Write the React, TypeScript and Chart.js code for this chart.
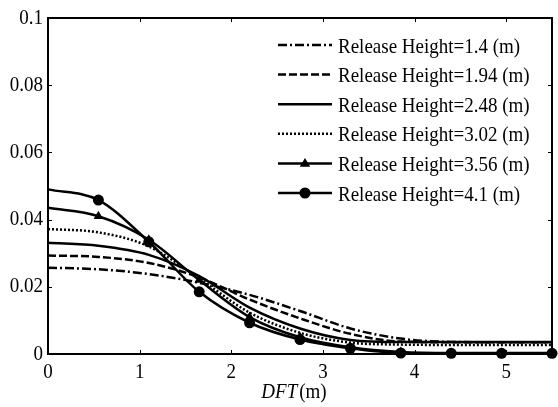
import React, { useEffect, useRef } from "react";
import { Chart, registerables } from "chart.js";

Chart.register(...registerables);

// ---- data ----
const distances = [0, 0.55, 1.1, 1.65, 2.2, 2.75, 3.3, 3.85, 4.4, 4.95, 5.5];
const seriesLabels = [
  "Release Height=1.4 (m)",
  "Release Height=1.94 (m)",
  "Release Height=2.48 (m)",
  "Release Height=3.02 (m)",
  "Release Height=3.56 (m)",
  "Release Height=4.1 (m)",
];
const h140 = [0.0257, 0.0252, 0.0238, 0.0212, 0.0176, 0.0128, 0.0076, 0.0046, 0.0036, 0.0035, 0.0035];
const h194 = [0.0293, 0.0289, 0.0271, 0.0228, 0.0162, 0.0106, 0.006, 0.0037, 0.0035, 0.0035, 0.0035];
const h248 = [0.0331, 0.0322, 0.0295, 0.0232, 0.0138, 0.0076, 0.0042, 0.0036, 0.0036, 0.0036, 0.0036];
const h302 = [0.0372, 0.0362, 0.032, 0.0225, 0.0123, 0.0063, 0.0034, 0.0028, 0.0027, 0.0027, 0.0027];
const h356 = [0.0435, 0.041, 0.034, 0.022, 0.011, 0.005, 0.002, 0.0006, 0.0003, 0.0003, 0.0003];
const h410 = [0.049, 0.0458, 0.0334, 0.0185, 0.0093, 0.0043, 0.0017, 0.0003, 0.0002, 0.0002, 0.0002];
const seriesValues = [h140, h194, h248, h302, h356, h410];

const xTicks = [0, 1, 2, 3, 4, 5];
const xTickLabels = ["0", "1", "2", "3", "4", "5"];
const yTicks = [0, 0.02, 0.04, 0.06, 0.08, 0.1];
const yTickLabels = ["0", "0.02", "0.04", "0.06", "0.08", "0.1"];
const xTitleItalic = "DFT";
const xTitleUnit = "(m)";

// ---- styles ----
const FONT = "'Liberation Serif', 'Times New Roman', serif";
const FONT_SIZE = 19;
const V_STRETCH = 1.12;
const dashes: number[][] = [[9, 3, 2, 3], [8, 3], [], [2, 2], [], []];
const markers: (string | false)[] = [false, false, false, false, "triangle", "circle"];

function drawText(
  ctx: CanvasRenderingContext2D,
  text: string,
  x: number,
  y: number,
  align: CanvasTextAlign,
  italic = false
) {
  ctx.save();
  ctx.font = `${italic ? "italic " : ""}${FONT_SIZE}px ${FONT}`;
  ctx.textAlign = align;
  ctx.textBaseline = "middle";
  ctx.translate(x, y);
  ctx.scale(1, V_STRETCH);
  ctx.fillText(text, 0, 0);
  ctx.restore();
}

const framePlugin = {
  id: "frame",
  afterDraw(chart: any) {
    const ctx = chart.ctx as CanvasRenderingContext2D;
    const { left, right, top, bottom } = chart.chartArea;
    const xs = chart.scales.x;
    const ys = chart.scales.y;
    ctx.save();
    ctx.strokeStyle = "#000";
    ctx.fillStyle = "#000";
    ctx.lineWidth = 2;
    ctx.setLineDash([]);
    ctx.strokeRect(left, top, right - left, bottom - top);
    ctx.lineWidth = 1;
    const tl = 4;
    ctx.beginPath();
    xTicks.forEach((v) => {
      const px = Math.round(xs.getPixelForValue(v)) + 0.5;
      ctx.moveTo(px, bottom);
      ctx.lineTo(px, bottom - tl);
      ctx.moveTo(px, top);
      ctx.lineTo(px, top + tl);
    });
    yTicks.forEach((v) => {
      const py = Math.round(ys.getPixelForValue(v)) + 0.5;
      ctx.moveTo(left, py);
      ctx.lineTo(left + tl, py);
      ctx.moveTo(right, py);
      ctx.lineTo(right - tl, py);
    });
    ctx.stroke();

    // tick labels
    xTicks.forEach((v, i) => {
      drawText(ctx, xTickLabels[i], xs.getPixelForValue(v), bottom + 18, "center");
    });
    yTicks.forEach((v, i) => {
      drawText(ctx, yTickLabels[i], left - 5, ys.getPixelForValue(v), "right");
    });

    // x-axis title
    ctx.font = `italic ${FONT_SIZE}px ${FONT}`;
    const w1 = ctx.measureText(xTitleItalic).width;
    ctx.font = `${FONT_SIZE}px ${FONT}`;
    const w2 = ctx.measureText(xTitleUnit).width;
    const gap = 2;
    const total = w1 + gap + w2;
    const cx = (left + right) / 2 - 6;
    const ty = 392;
    drawText(ctx, xTitleItalic, cx - total / 2, ty, "left", true);
    drawText(ctx, xTitleUnit, cx - total / 2 + w1 + gap, ty, "left");

    // legend
    const lx0 = 278;
    const lx1 = 332;
    const mx = 305;
    const textX = 338;
    const rowY0 = 45;
    const rowStep = 29.6;
    seriesLabels.forEach((label, i) => {
      const y = rowY0 + i * rowStep;
      ctx.lineWidth = 2.5;
      ctx.strokeStyle = "#000";
      ctx.setLineDash(dashes[i]);
      ctx.beginPath();
      ctx.moveTo(lx0, y);
      ctx.lineTo(lx1, y);
      ctx.stroke();
      ctx.setLineDash([]);
      if (markers[i] === "circle") {
        ctx.beginPath();
        ctx.arc(mx, y, 5.5, 0, Math.PI * 2);
        ctx.fill();
      } else if (markers[i] === "triangle") {
        const r = 5.5;
        ctx.beginPath();
        ctx.moveTo(mx, y - r);
        ctx.lineTo(mx + r * 0.95, y + r * 0.6);
        ctx.lineTo(mx - r * 0.95, y + r * 0.6);
        ctx.closePath();
        ctx.fill();
      }
      drawText(ctx, label, textX, y + 2, "left");
    });
    ctx.restore();
  },
};

export default function App() {
  const ref = useRef<HTMLCanvasElement | null>(null);
  useEffect(() => {
    if (!ref.current) return;
    const datasets = seriesValues.map((vals, i) => ({
      label: seriesLabels[i],
      data: distances.map((d, j) => ({ x: d, y: vals[j] })),
      borderColor: "#000",
      backgroundColor: "#000",
      borderWidth: 2.5,
      borderDash: dashes[i],
      cubicInterpolationMode: "monotone" as const,
      pointStyle: (markers[i] || "circle") as any,
      pointRadius: distances.map((_, j) =>
        markers[i] && j > 0 ? (markers[i] === "triangle" ? 5.5 : 5.5) : 0
      ),
      pointBackgroundColor: "#000",
      pointBorderColor: "#000",
      pointBorderWidth: 0,
      pointHoverRadius: 0,
      clip: false as any,
    }));
    const chart = new Chart(ref.current, {
      type: "line",
      data: { datasets },
      options: {
        animation: false,
        responsive: false,
        maintainAspectRatio: false,
        layout: { padding: { left: 0, right: 6, top: 18, bottom: 0 } },
        plugins: { legend: { display: false }, tooltip: { enabled: false } },
        scales: {
          x: {
            type: "linear",
            min: 0,
            max: 5.5,
            grid: { display: false, drawTicks: false },
            border: { display: false },
            afterBuildTicks: (s: any) => {
              s.ticks = xTicks.map((v) => ({ value: v }));
            },
            afterFit: (s: any) => {
              s.height = 53;
            },
            ticks: { display: false },
          },
          y: {
            type: "linear",
            min: 0,
            max: 0.1,
            grid: { display: false, drawTicks: false },
            border: { display: false },
            afterBuildTicks: (s: any) => {
              s.ticks = yTicks.map((v) => ({ value: v }));
            },
            afterFit: (s: any) => {
              s.width = 48;
            },
            ticks: { display: false },
          },
        },
      },
      plugins: [framePlugin],
    });
    return () => chart.destroy();
  }, []);
  return (
    <div style={{ position: "fixed", left: 0, top: 0, width: 558, height: 407, background: "#fff" }}>
      <canvas ref={ref} width={558} height={407} style={{ width: 558, height: 407 }} />
    </div>
  );
}
